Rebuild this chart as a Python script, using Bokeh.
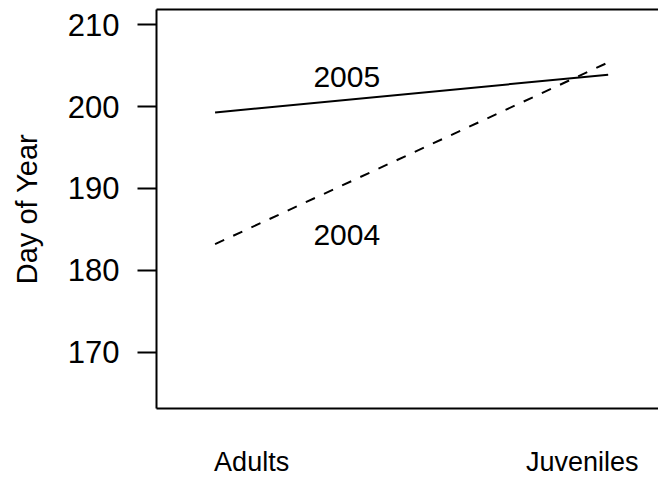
from bokeh.plotting import figure
from bokeh.models import LinearAxis, FixedTicker, Range1d
from bokeh.core.properties import value
from bokeh.embed import file_html
from bokeh.resources import INLINE

# Mean day of year for each age group, by year
groups = ["Adults", "Juveniles"]
group_pos = [1, 2]
day_2005 = [199.3, 203.9]
day_2004 = [183.2, 205.4]

# Year labels placed beside each line
year_labels = ["2005", "2004"]
year_label_x = [1.335, 1.335]
year_label_y = [203.6, 184.3]

# Category label positions along the bottom
group_label_x = [1.093, 1.934]

y_ticks = [170, 180, 190, 200, 210]

FONT = "Liberation Sans"

p = figure(
    width=658, height=482,
    x_range=Range1d(0.851, 2.128), y_range=Range1d(163.12, 211.87),
    output_backend="svg", toolbar_location=None,
    x_axis_location=None, y_axis_location=None,
    min_border_left=156, min_border_right=0,
    min_border_top=9, min_border_bottom=74,
)
p.outline_line_color = None
p.grid.visible = False
p.background_fill_color = "white"
p.border_fill_color = "white"

# Left axis with outward ticks
yax = LinearAxis(ticker=FixedTicker(ticks=y_ticks, minor_ticks=[]))
yax.axis_label = "Day of Year"
yax.axis_label_text_font = FONT
yax.axis_label_text_font_size = "29px"
yax.axis_label_text_font_style = "normal"
yax.axis_label_text_color = "black"
yax.axis_label_standoff = 22
yax.major_label_text_font = FONT
yax.major_label_text_font_size = "31px"
yax.major_label_text_color = "black"
yax.major_label_standoff = 18
yax.major_tick_in = 0
yax.major_tick_out = 19
yax.major_tick_line_width = 2
yax.axis_line_width = 2
yax.minor_tick_line_color = None
p.add_layout(yax, "left")

# Bottom axis: rule plus group names, no ticks
xax = LinearAxis(ticker=FixedTicker(ticks=group_label_x, minor_ticks=[]))
xax.major_label_overrides = {group_label_x[i]: groups[i] for i in range(len(groups))}
xax.major_label_text_font = FONT
xax.major_label_text_font_size = "27px"
xax.major_label_text_color = "black"
xax.major_label_standoff = 32
xax.major_tick_line_color = None
xax.minor_tick_line_color = None
xax.axis_line_width = 2
p.add_layout(xax, "below")

# Top rule of the box
tax = LinearAxis(ticker=FixedTicker(ticks=[], minor_ticks=[]))
tax.major_tick_line_color = None
tax.minor_tick_line_color = None
tax.major_label_text_font_size = "0px"
tax.axis_line_width = 2
p.add_layout(tax, "above")

p.line(group_pos, day_2005, line_color="black", line_width=2)
p.line(group_pos, day_2004, line_color="black", line_width=2, line_dash="10 10")

p.text(year_label_x, year_label_y, text=year_labels,
       text_font=value(FONT), text_font_size="30px",
       text_align="center", text_baseline="middle", text_color="black")

open("out.html", "w").write(file_html(p, INLINE))
